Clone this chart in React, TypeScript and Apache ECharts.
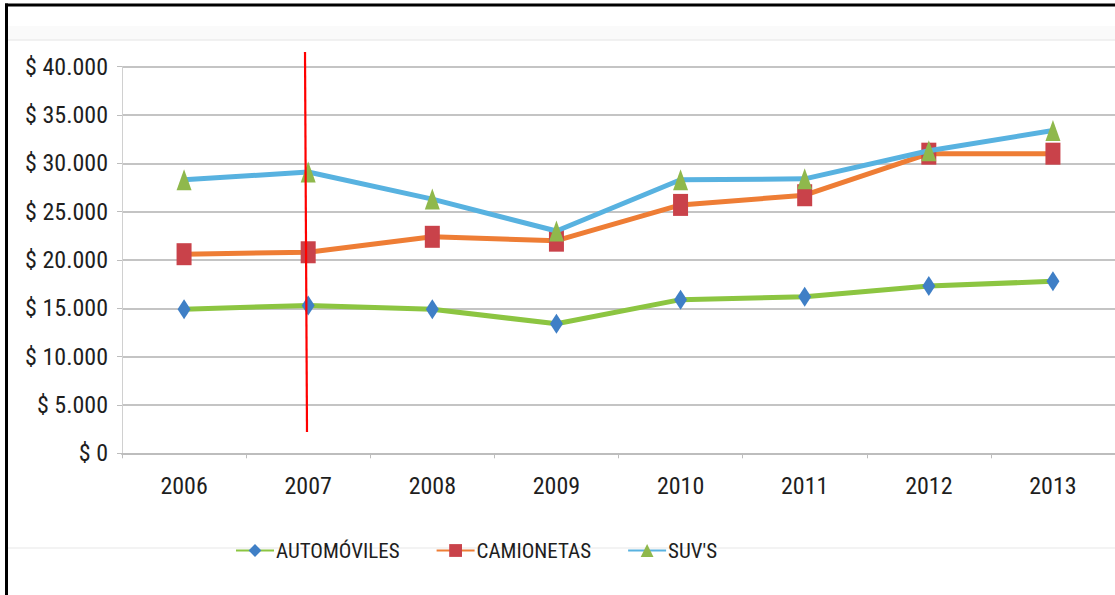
import React, { useEffect, useRef } from "react";
import * as echarts from "echarts";

const years = ["2006", "2007", "2008", "2009", "2010", "2011", "2012", "2013"];
const automoviles = [14900, 15300, 14900, 13400, 15900, 16200, 17300, 17800];
const camionetas = [20600, 20800, 22400, 22000, 25700, 26700, 31000, 31000];
const suvs = [28300, 29100, 26300, 23000, 28300, 28400, 31300, 33400];
const seriesNames = ["AUTOMÓVILES", "CAMIONETAS", "SUV'S"];

const FONT = "'Roboto Condensed', 'DejaVu Sans Condensed', Roboto, sans-serif";

function money(v: number): string {
  const s = String(Math.round(v));
  return "$ " + s.replace(/\B(?=(\d{3})+(?!\d))/g, ".");
}

export default function App() {
  const ref = useRef<HTMLDivElement>(null);
  useEffect(() => {
    if (!ref.current) return;
    const chart = echarts.init(ref.current, undefined, { renderer: "svg" });
    chart.setOption({
      animation: false,
      backgroundColor: "#ffffff",
      grid: { left: 122, top: 66.7, width: 1001, height: 386.6, containLabel: false },
      legend: {
        left: 235,
        top: 540,
        padding: 0,
        itemWidth: 38,
        itemHeight: 16,
        itemGap: 36,
        textStyle: { fontFamily: FONT, fontSize: 21, color: "#1e1e1e", padding: [0, 0, 0, -3] },
        data: seriesNames,
      },
      xAxis: {
        type: "category",
        data: years,
        boundaryGap: true,
        axisLine: { lineStyle: { color: "#bdbdbd", width: 2 } },
        axisTick: { show: true, length: 5, lineStyle: { color: "#bdbdbd", width: 1 } },
        axisLabel: { margin: 21, fontFamily: FONT, fontSize: 24, color: "#1e1e1e" },
      },
      yAxis: {
        type: "value",
        min: 0,
        max: 40000,
        interval: 5000,
        axisLine: { show: true, lineStyle: { color: "#d0d0d0", width: 1 } },
        axisTick: { show: true, length: 5, lineStyle: { color: "#bdbdbd" } },
        axisLabel: {
          margin: 14,
          fontFamily: FONT,
          fontSize: 24,
          color: "#1e1e1e",
          formatter: (v: number) => money(v),
        },
        splitLine: { lineStyle: { color: "#c4c4c4", width: 2 } },
      },
      series: [
        {
          name: seriesNames[0],
          type: "line",
          data: automoviles,
          symbol: "diamond",
          symbolSize: [13, 20],
          lineStyle: { color: "#8cc541", width: 5 },
          itemStyle: { color: "#3f7fc6" },
          z: 3,
        },
        {
          name: seriesNames[1],
          type: "line",
          data: camionetas,
          symbol: "rect",
          symbolSize: [15, 22],
          lineStyle: { color: "#ee7d35", width: 5 },
          itemStyle: { color: "#c9424a" },
          z: 4,
        },
        {
          name: seriesNames[2],
          type: "line",
          data: suvs,
          symbol: "triangle",
          symbolSize: [15, 21],
          lineStyle: { color: "#58b2e0", width: 5 },
          itemStyle: { color: "#8fb84c" },
          z: 5,
        },
      ],
      graphic: [
        { type: "rect", shape: { x: 8, y: 26, width: 1107, height: 14 }, style: { fill: "#fafafa" }, z: -10, silent: true },
        { type: "line", shape: { x1: 8, y1: 40, x2: 1115, y2: 40 }, style: { stroke: "#ececec", lineWidth: 1.5 }, z: -10, silent: true },
        { type: "line", shape: { x1: 8, y1: 548, x2: 1115, y2: 548 }, style: { stroke: "#efefef", lineWidth: 1.5 }, z: -10, silent: true },
        { type: "line", shape: { x1: 305, y1: 52, x2: 307, y2: 432 }, style: { stroke: "#ff0000", lineWidth: 2.2 }, z: 100, silent: true },
        { type: "rect", shape: { x: 5, y: 3.5, width: 3, height: 592 }, style: { fill: "#000000" }, z: 100, silent: true },
        { type: "rect", shape: { x: 5, y: 3.5, width: 1110, height: 3 }, style: { fill: "#000000" }, z: 100, silent: true },
      ],
    });
    return () => chart.dispose();
  }, []);
  return (
    <div
      ref={ref}
      style={{ position: "absolute", left: 0, top: 0, width: 1115, height: 595, background: "#fff" }}
    />
  );
}
